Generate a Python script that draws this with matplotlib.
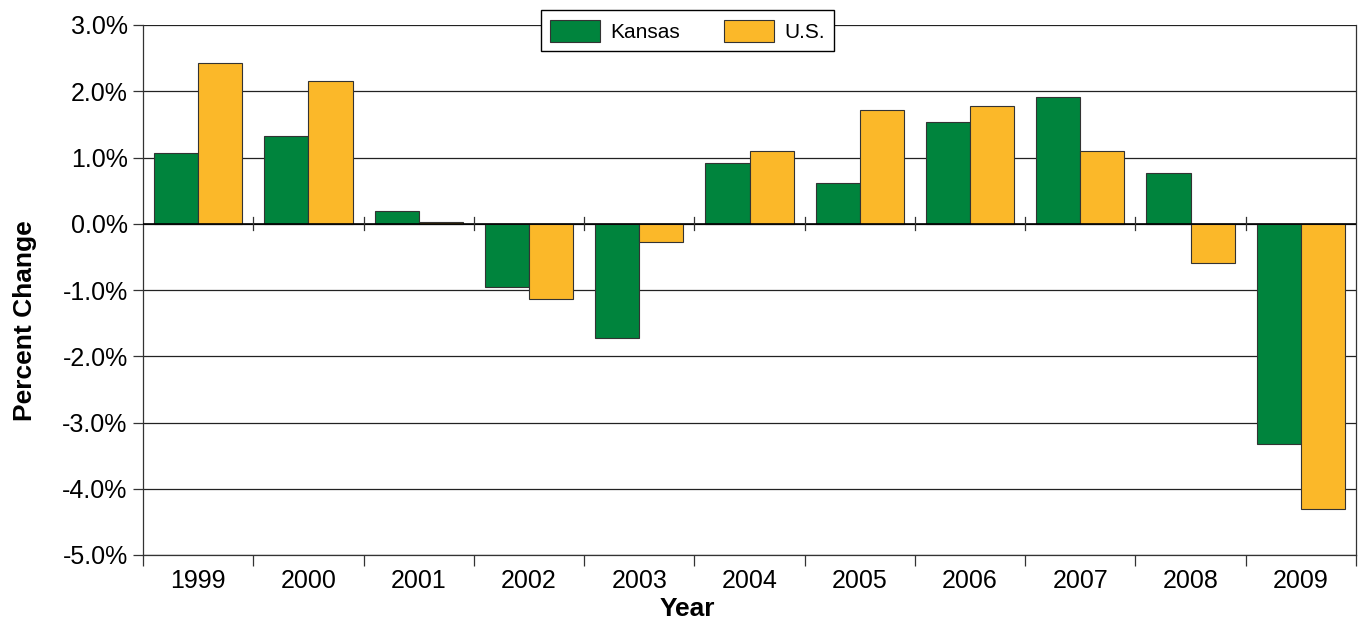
#!/usr/bin/env python3
# -*- coding: utf-8 -*-

"""
Kansas vs U.S. percent change per year, grouped bars
"""
import numpy as np
import matplotlib
matplotlib.use('Agg')
import matplotlib.pyplot as plt
from matplotlib.ticker import FixedLocator, FuncFormatter
import matplotlib.transforms as mtransforms

years = ['1999', '2000', '2001', '2002', '2003', '2004', '2005', '2006', '2007', '2008', '2009']
kansas = [1.07, 1.33, 0.20, -0.95, -1.72, 0.91, 0.62, 1.54, 1.92, 0.77, -3.32]
us = [2.42, 2.16, 0.03, -1.13, -0.27, 1.10, 1.72, 1.78, 1.10, -0.59, -4.30]

green = '#00843d'
gold = '#fbb829'

plt.rcParams['font.family'] = ['Liberation Sans', 'DejaVu Sans']

fig = plt.figure(figsize=(13.66, 6.22), dpi=100)
ax = fig.add_axes([143 / 1366, 1 - 555 / 622, 1213 / 1366, 530 / 622])

x = np.arange(len(years))
w = 0.4
ax.bar(x - w / 2, kansas, w, color=green, edgecolor='#333333', lw=0.8, label='Kansas', zorder=3)
ax.bar(x + w / 2, us, w, color=gold, edgecolor='#333333', lw=0.8, label='U.S.', zorder=3)

ax.set_xlim(-0.5, len(years) - 0.5)
ax.set_ylim(-5, 3)

# y axis
ax.set_yticks(np.arange(-5, 3.01, 1))
ax.yaxis.set_major_formatter(FuncFormatter(lambda v, p: f'{v:.1f}%'))
ax.grid(axis='y', color='#222222', lw=0.9, zorder=0)
ax.tick_params(axis='y', direction='out', length=7, width=0.9, color='#333333', labelsize=18, pad=4)
ax.axhline(0, color='black', lw=1.2, zorder=4)

# x axis: labels at centers, ticks at boundaries
ax.set_xticks(x)
ax.set_xticklabels(years)
ax.xaxis.set_minor_locator(FixedLocator(np.arange(-0.5, len(years), 1)))
ax.tick_params(axis='x', which='major', length=0, labelsize=18, pad=10)
ax.tick_params(axis='x', which='minor', direction='out', length=8, width=0.9, color='#333333')

# small tick crosses on the zero line
trans = mtransforms.blended_transform_factory(ax.transData, ax.transAxes)
z = 5 / 8
for b in np.arange(0.5, len(years) - 1, 1):
    ax.plot([b, b], [z - 0.012, z + 0.012], color='#333333', lw=0.9, transform=trans, zorder=4, clip_on=False)

ax.spines['top'].set_visible(False)
for s in ['left', 'right', 'bottom']:
    ax.spines[s].set_color('#333333')
    ax.spines[s].set_linewidth(0.9)

ax.set_xlabel('Year', fontsize=19, fontweight='bold')
ax.xaxis.set_label_coords(0.449, -0.08)
ax.set_ylabel('Percent Change', fontsize=19, fontweight='bold')
ax.yaxis.set_label_coords(-0.0875, 0.443)

leg = ax.legend(loc='center', bbox_to_anchor=(0.449, 0.989), ncol=2, fontsize=15,
                frameon=True, fancybox=False, edgecolor='black', framealpha=1,
                handlelength=2.4, handleheight=1.25, columnspacing=2.1, borderpad=0.45,
                handletextpad=0.5, borderaxespad=0)
leg.get_frame().set_linewidth(1.0)
leg.set_zorder(10)

plt.savefig('out.png', dpi=100)
